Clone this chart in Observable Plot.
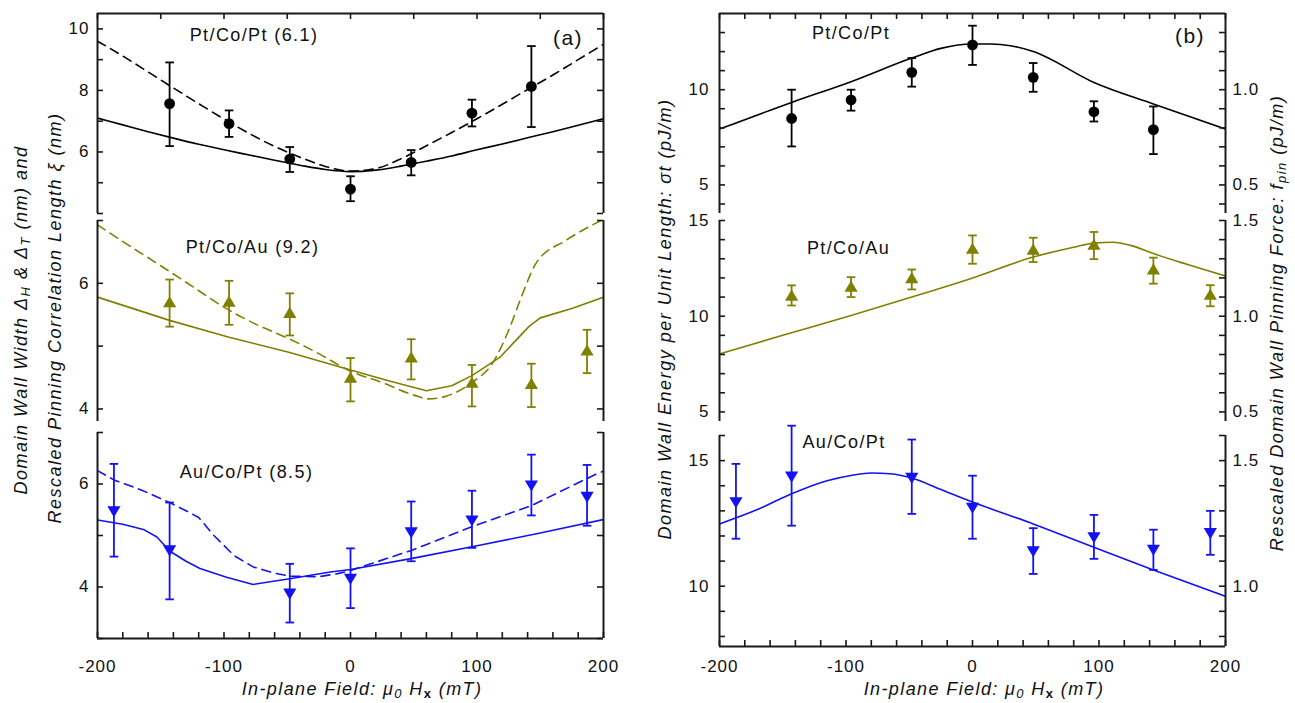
<!DOCTYPE html>
<html><head><meta charset="utf-8">
<script src="https://cdn.jsdelivr.net/npm/d3@7"></script>
<script src="https://cdn.jsdelivr.net/npm/@observablehq/plot@0.6"></script>
<style>
body{margin:0;background:#fff;}
#fig{position:relative;width:1295px;height:703px;overflow:hidden;background:#fff;font-family:"Liberation Sans",Arial,sans-serif;color:#111;}
#fig svg{position:absolute;}
.lab{position:absolute;transform:translate(-50%,-50%);white-space:nowrap;font-size:18px;letter-spacing:1.4px;line-height:1.15;}
.rot{position:absolute;transform:translate(-50%,-50%) rotate(-90deg);white-space:nowrap;font-size:18px;letter-spacing:1.5px;line-height:1.15;font-style:italic;}
.xt{position:absolute;transform:translate(-50%,-50%);white-space:nowrap;font-size:18px;letter-spacing:1.4px;line-height:1.15;font-style:italic;}
sub{font-size:0.72em;vertical-align:-0.28em;line-height:0;}
</style></head><body><div id="fig"></div>
<script>
// ---------------- data ----------------
const fieldTicks = [-200,-180,-160,-140,-120,-100,-80,-60,-40,-20,0,20,40,60,80,100,120,140,160,180,200];
const fieldTopTicksA = [-200,-150,-100,-50,0,50,100,150,200];
const fieldLabels = [-200,-100,0,100,200];

// Panel (a) – domain wall width / correlation length (nm)
const aPtPtField = [-143,-96,-48,0,48,96,143];
const aPtPtY  = [7.57,6.92,5.77,4.79,5.66,7.26,8.13];
const aPtPtLo = [6.19,6.49,5.35,4.40,5.24,6.83,6.81];
const aPtPtHi = [8.91,7.35,6.16,5.21,6.06,7.70,9.44];
const aPtPtCurveField = [-200,-180,-160,-140,-120,-100,-80,-60,-40,-20,0,20,40,60,80,100,120,140,160,180,200];
const aPtPtSolid  = [7.1,6.88,6.66,6.45,6.25,6.07,5.9,5.73,5.57,5.43,5.36,5.41,5.54,5.7,5.87,6.07,6.26,6.46,6.66,6.87,7.08];
const aPtPtDashed = [9.6,9.12,8.6,8.08,7.57,7.07,6.6,6.18,5.83,5.53,5.38,5.46,5.78,6.2,6.63,7.08,7.55,8.03,8.5,9.0,9.5];

const aPtAuField = [-143,-96,-48,0,48,96,143,187];
const aPtAuY  = [5.70,5.71,5.53,4.50,4.82,4.42,4.40,4.93];
const aPtAuLo = [5.31,5.34,5.17,4.12,4.47,4.04,4.03,4.57];
const aPtAuHi = [6.06,6.04,5.84,4.81,5.11,4.70,4.72,5.26];
const aPtAuSolidField = [-200,-143,-96,-48,0,30,60,80,96,118,141,150,175,200];
const aPtAuSolid = [5.78,5.41,5.14,4.90,4.62,4.45,4.29,4.37,4.53,4.82,5.31,5.45,5.6,5.78];
const aPtAuDashedField = [-200,-175,-150,-125,-100,-75,-50,-25,0,25,50,62,75,96,112,126,135,147,170,200];
const aPtAuDashed = [6.93,6.6,6.28,5.95,5.62,5.35,5.13,4.88,4.6,4.42,4.22,4.16,4.2,4.42,4.72,5.3,5.78,6.33,6.68,7.02];

const aAuPtField = [-187,-143,-48,0,48,96,143,187];
const aAuPtY  = [5.47,4.71,3.87,4.16,5.06,5.29,5.97,5.75];
const aAuPtLo = [4.59,3.76,3.31,3.59,4.50,4.76,5.39,5.19];
const aAuPtHi = [6.39,5.64,4.45,4.75,5.66,5.87,6.57,6.37];
const aAuPtSolidField = [-200,-180,-163,-153,-143,-130,-119,-98,-77,-48,-16,0,50,100,150,200];
const aAuPtSolid = [5.30,5.22,5.11,4.97,4.70,4.5,4.36,4.19,4.05,4.16,4.29,4.34,4.56,4.80,5.05,5.31];
const aAuPtDashedField = [-200,-187,-165,-143,-130,-120,-108,-92,-77,-60,-48,-25,-10,0,48,96,143,194,200];
const aAuPtDashed = [6.26,6.08,5.88,5.64,5.48,5.35,5.0,4.61,4.39,4.27,4.21,4.2,4.26,4.32,4.71,5.17,5.58,6.19,6.25];

// Panel (b) – domain wall energy (pJ/m); right axis = value / 10
const bPtPtField = [-143,-96,-48,0,48,96,143];
const bPtPtY  = [8.49,9.46,10.91,12.35,10.65,8.84,7.90];
const bPtPtLo = [7.02,8.90,10.16,11.30,9.89,8.33,6.62];
const bPtPtHi = [10.0,10.0,11.66,13.36,11.40,9.39,9.12];
const bPtPtCurveField = [-200,-143,-96,-48,-25,0,15,30,48,96,143,200];
const bPtPtCurve = [7.93,9.33,10.42,11.66,12.17,12.40,12.40,12.31,12.01,10.38,9.25,7.93];

const bPtAuField = [-143,-96,-48,0,48,96,143,188];
const bPtAuY  = [11.08,11.55,11.99,13.53,13.48,13.74,12.45,11.12];
const bPtAuLo = [10.56,11.0,11.40,12.74,12.83,12.98,11.70,10.52];
const bPtAuHi = [11.61,12.04,12.44,14.22,14.10,14.40,13.06,11.62];
const bPtAuCurveField = [-200,-150,-96,-48,0,48,80,96,111,125,143,170,200];
const bPtAuCurve = [8.03,9.0,10.04,11.0,12.0,13.09,13.6,13.82,13.86,13.7,13.27,12.7,12.1];

const bAuPtField = [-187,-143,-48,0,48,96,143,188];
const bAuPtY  = [13.34,14.36,14.31,13.12,11.39,11.95,11.45,12.11];
const bAuPtLo = [11.89,12.41,12.88,11.89,10.49,11.09,10.65,11.25];
const bAuPtHi = [14.87,16.39,15.84,14.40,12.31,12.84,12.25,13.0];
const bAuPtCurveField = [-200,-170,-143,-115,-95,-80,-65,-48,-25,0,48,96,143,200];
const bAuPtCurve = [12.48,13.05,13.68,14.2,14.42,14.51,14.48,14.31,13.85,13.35,12.48,11.55,10.65,9.60];

const BLACK = "#000000", OLIVE = "#808000", BLUE = "#1212f2", INK = "#1a1a1a";

// ---------------- helpers ----------------
const fig = document.getElementById("fig");
const capSym = {draw(ctx){ ctx.moveTo(-4.3,0); ctx.lineTo(4.3,0); }};
const triUp = {draw(ctx,size){ const r=Math.sqrt(size/Math.PI); ctx.moveTo(0,-r); ctx.lineTo(r*1.1,r*0.85); ctx.lineTo(-r*1.1,r*0.85); ctx.closePath(); }};
const triDown = {draw(ctx,size){ const r=Math.sqrt(size/Math.PI); ctx.moveTo(0,r); ctx.lineTo(r*1.1,-r*0.85); ctx.lineTo(-r*1.1,-r*0.85); ctx.closePath(); }};

function zip(xs, ys){ return xs.map((x,i)=>({x, y: ys[i]})); }

function subplot(o){
  const mL = 60, mR = 60, mT = 25, mB = o.bottom ? 45 : 10;
  const w = 506, h = o.h;
  const [y0, y1] = o.yDomain;
  const marks = [];
  for (const c of o.curves) {
    marks.push(Plot.line(zip(c.x, c.y), {x:"x", y:"y", stroke:o.color, strokeWidth:1.6,
      strokeDasharray: c.dash ? "9,6" : null, curve: c.curve || "monotone-x", clip:true}));
  }
  const pts = o.px.map((x,i)=>({x, y:o.py[i], lo:o.lo[i], hi:o.hi[i]}));
  marks.push(Plot.ruleX(pts, {x:"x", y1:"lo", y2:"hi", stroke:o.color, strokeWidth:1.8}));
  marks.push(Plot.dot(pts, {x:"x", y:"lo", symbol:capSym, stroke:o.color, strokeWidth:1.8, fill:"none"}));
  marks.push(Plot.dot(pts, {x:"x", y:"hi", symbol:capSym, stroke:o.color, strokeWidth:1.8, fill:"none"}));
  marks.push(Plot.dot(pts, {x:"x", y:"y", symbol:o.sym, r:o.r, fill:o.color, stroke:"none"}));
  // frame lines
  marks.push(Plot.ruleX([-200, 200], {x: d=>d, stroke:INK, strokeWidth:2}));
  if (o.top) marks.push(Plot.ruleY([y1], {y: d=>d, stroke:INK, strokeWidth:2}));
  if (o.bottom) marks.push(Plot.ruleY([y0], {y: d=>d, stroke:INK, strokeWidth:2}));
  // inward ticks
  marks.push(Plot.tickY(o.yTicks, {y: d=>d, insetRight: w-6, stroke:INK, strokeWidth:1.6}));
  marks.push(Plot.tickY(o.yTicks, {y: d=>d, insetLeft: w-6, stroke:INK, strokeWidth:1.6}));
  if (o.top) marks.push(Plot.tickX(o.topTicks, {x: d=>d, insetBottom: h-6, stroke:INK, strokeWidth:1.6}));
  if (o.bottom) {
    marks.push(Plot.tickX(fieldTicks, {x: d=>d, insetTop: h-6, stroke:INK, strokeWidth:1.6}));
    marks.push(Plot.axisX(fieldLabels, {anchor:"bottom", tickSize:0, tickPadding:o.xPad, tickFormat: d=>String(d), label:null}));
  }
  marks.push(Plot.axisY(o.leftLabels, {anchor:"left", tickSize:0, tickPadding:o.lPad, tickFormat: d=>String(d), label:null}));
  if (o.rightLabels) marks.push(Plot.axisY(o.rightLabels, {anchor:"right", tickSize:0, tickPadding:7, tickFormat: d=>(d/10).toFixed(1), label:null}));
  else marks.push(Plot.axisY([], {anchor:"right", tickSize:0, label:null}));
  const svg = Plot.plot({
    width: mL + w + mR, height: mT + h + mB,
    marginLeft: mL, marginRight: mR, marginTop: mT, marginBottom: mB,
    x: {domain:[-200,200], label:null, axis: o.bottom ? undefined : null},
    y: {domain:o.yDomain, label:null},
    style: {fontFamily:"'Liberation Sans', Arial, sans-serif", fontSize:"17px", letterSpacing:"1px",
            color:"#111", background:"transparent", overflow:"visible", maxWidth:"none"},
    marks
  });
  svg.style.left = (o.left - mL) + "px";
  svg.style.top = (o.frameTop - mT) + "px";
  fig.appendChild(svg);
}

function label(html, cx, cy, cls, size){
  const d = document.createElement("div");
  d.className = cls; d.innerHTML = html;
  d.style.left = cx + "px"; d.style.top = cy + "px";
  if (size) d.style.fontSize = size + "px";
  fig.appendChild(d);
}

// ---------------- panel (a) ----------------
subplot({left:97, frameTop:13, h:200, yDomain:[4,10.5], color:BLACK, sym:"circle", r:5.4,
  px:aPtPtField, py:aPtPtY, lo:aPtPtLo, hi:aPtPtHi,
  curves:[{x:aPtPtCurveField, y:aPtPtSolid}, {x:aPtPtCurveField, y:aPtPtDashed, dash:true}],
  yTicks:[4,5,6,7,8,9,10], leftLabels:[6,8,10], lPad:8, top:true, topTicks:fieldTopTicksA});
subplot({left:97, frameTop:220, h:201, yDomain:[3.8,7.0], color:OLIVE, sym:triUp, r:6,
  px:aPtAuField, py:aPtAuY, lo:aPtAuLo, hi:aPtAuHi,
  curves:[{x:aPtAuSolidField, y:aPtAuSolid, curve:"linear"}, {x:aPtAuDashedField, y:aPtAuDashed, dash:true}],
  yTicks:[4,5,6,7], leftLabels:[4,6], lPad:8});
subplot({left:97, frameTop:432, h:206, yDomain:[3,7], color:BLUE, sym:triDown, r:6,
  px:aAuPtField, py:aAuPtY, lo:aAuPtLo, hi:aAuPtHi,
  curves:[{x:aAuPtSolidField, y:aAuPtSolid, curve:"linear"}, {x:aAuPtDashedField, y:aAuPtDashed, dash:true, curve:"linear"}],
  yTicks:[3,4,5,6,7], leftLabels:[4,6], lPad:8, bottom:true, xPad:21});

// ---------------- panel (b) ----------------
subplot({left:719.3, frameTop:13, h:200, yDomain:[3.5,14], color:BLACK, sym:"circle", r:5.4,
  px:bPtPtField, py:bPtPtY, lo:bPtPtLo, hi:bPtPtHi,
  curves:[{x:bPtPtCurveField, y:bPtPtCurve}],
  yTicks:[4,5,6,7,8,9,10,11,12,13], leftLabels:[5,10], rightLabels:[5,10], lPad:10, top:true, topTicks:fieldTicks});
subplot({left:719.3, frameTop:220, h:201, yDomain:[4.5,15], color:OLIVE, sym:triUp, r:6,
  px:bPtAuField, py:bPtAuY, lo:bPtAuLo, hi:bPtAuHi,
  curves:[{x:bPtAuCurveField, y:bPtAuCurve}],
  yTicks:[5,6,7,8,9,10,11,12,13,14,15], leftLabels:[5,10,15], rightLabels:[5,10,15], lPad:10});
subplot({left:719.3, frameTop:435, h:211, yDomain:[7.6,16], color:BLUE, sym:triDown, r:6,
  px:bAuPtField, py:bAuPtY, lo:bAuPtLo, hi:bAuPtHi,
  curves:[{x:bAuPtCurveField, y:bAuPtCurve}],
  yTicks:[8,9,10,11,12,13,14,15,16], leftLabels:[10,15], rightLabels:[10,15], lPad:10, bottom:true, xPad:13});

// ---------------- texts ----------------
label("Pt/Co/Pt (6.1)", 254, 34.5, "lab");
label("Pt/Co/Au (9.2)", 252.5, 246.5, "lab");
label("Au/Co/Pt (8.5)", 246.5, 472, "lab");
label("Pt/Co/Pt", 851, 33, "lab");
label("Pt/Co/Au", 848.5, 247.5, "lab");
label("Au/Co/Pt", 844, 442, "lab");
label("(a)", 568, 38, "lab", 21);
label("(b)", 1190, 36, "lab", 21);

label("Domain Wall Width <i>Δ</i><sub><i>H</i></sub> &amp; <i>Δ</i><sub><i>T</i></sub> (nm) and", 21, 320, "rot");
label("Rescaled Pinning Correlation Length <i>ξ</i> (nm)", 55, 318, "rot");
label("Domain Wall Energy per Unit Length: <i>σt</i> (pJ/m)", 665, 319, "rot");
label("Rescaled Domain Wall Pinning Force: <i>f</i><sub>pin</sub> (pJ/m)", 1277, 323, "rot");
label("In-plane Field: μ<sub>0</sub> H<sub><b style='font-style:normal'>x</b></sub> (mT)", 362, 689, "xt");
label("In-plane Field: μ<sub>0</sub> H<sub><b style='font-style:normal'>x</b></sub> (mT)", 984, 689, "xt");
</script></body></html>
